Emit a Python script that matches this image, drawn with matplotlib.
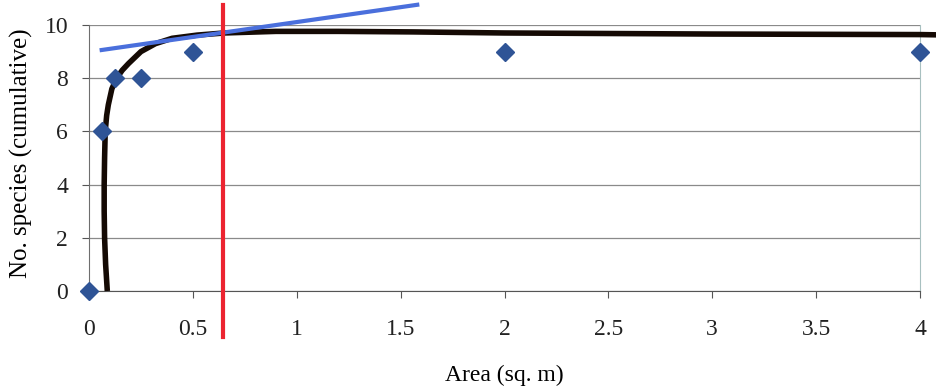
import matplotlib.pyplot as plt

plt.rcParams["font.family"] = ["Liberation Serif", "DejaVu Serif"]

# observed cumulative species counts
area = [0, 0.0625, 0.125, 0.25, 0.5, 2, 4]
species = [0, 6, 8, 8, 9, 9, 9]

# fitted curve
curve_x = [0.088, 0.080, 0.075, 0.073, 0.073, 0.075, 0.078, 0.085, 0.093, 0.11,
           0.133, 0.16, 0.19, 0.25, 0.32, 0.40, 0.52, 0.65, 0.9, 1.2, 1.56,
           2.0, 2.5, 3.0, 3.5, 4.0, 4.08]
curve_y = [0, 1, 2, 3, 4, 5, 6, 6.6, 7, 7.6,
           8, 8.3, 8.55, 9.0, 9.3, 9.5, 9.62, 9.7, 9.76, 9.76, 9.74,
           9.7, 9.68, 9.66, 9.65, 9.64, 9.63]

# tangent line and cut-off marker
tangent_x = [0.061, 1.58]
tangent_y = [9.06, 10.76]
cutoff_x = 0.644
cutoff_y = [-1.73, 10.75]

fig = plt.figure(figsize=(9.36, 3.9), dpi=100)
ax = fig.add_axes([0.0951, 0.2538, 0.8878, 0.6821])

ax.set_xlim(0, 4)
ax.set_ylim(0, 10)
ax.set_xticks([0, 0.5, 1, 1.5, 2, 2.5, 3, 3.5, 4])
ax.set_xticklabels(["0", "0.5", "1", "1.5", "2", "2.5", "3", "3.5", "4"])
ax.set_yticks([0, 2, 4, 6, 8, 10])
ax.grid(axis="y", color="#8a8a8a", linewidth=0.9)
ax.set_axisbelow(True)

ax.spines["top"].set_visible(False)
ax.spines["left"].set_color("#6e6e6e")
ax.spines["bottom"].set_color("#555555")
ax.spines["right"].set_color("#a8c0c0")
ax.tick_params(axis="both", labelsize=17, colors="#222222", length=5,
               color="#555555", direction="out")
ax.tick_params(axis="x", pad=15)
ax.tick_params(axis="y", pad=10)

ax.plot(curve_x, curve_y, color="#150a04", linewidth=4,
        solid_capstyle="butt", clip_on=False, zorder=3)
ax.plot(area, species, linestyle="none", marker="D", markersize=9.5,
        color="#2f5496", clip_on=False, zorder=4)
ax.plot(tangent_x, tangent_y, color="#4a6fdc", linewidth=3,
        clip_on=False, zorder=5)
ax.plot([cutoff_x, cutoff_x], cutoff_y, color="#ec2430", linewidth=3,
        clip_on=False, zorder=6)

ax.set_xlabel("Area (sq. m)", fontsize=17, labelpad=18)
ax.set_ylabel("No. species (cumulative)", fontsize=18, labelpad=6)
ax.yaxis.set_label_coords(-0.067, 0.52)

fig.savefig("out.png", dpi=100)
